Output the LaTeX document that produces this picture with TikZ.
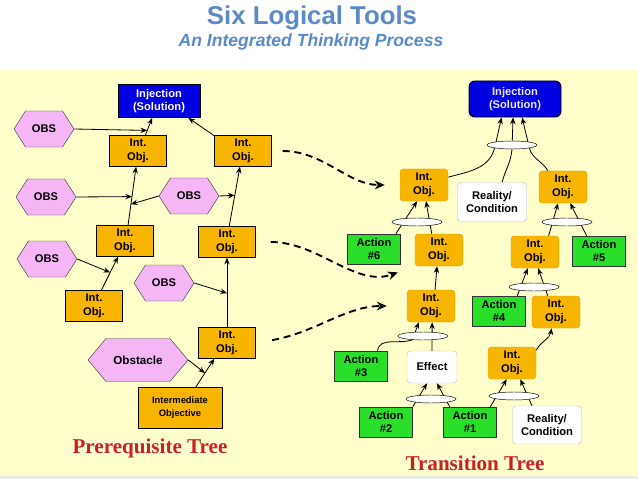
\documentclass[tikz,border=0pt]{standalone}
\usepackage{fontspec}
\setmainfont{Liberation Sans}
\newfontfamily\treefont{Liberation Serif}
\usepackage{tikz}
\usetikzlibrary{
  shapes.geometric, shapes.symbols, arrows.meta, positioning, backgrounds
}
\definecolor{panelyellow}{HTML}{FFFFCC}
\definecolor{objorange}{HTML}{F7B500}
\definecolor{objedge}{HTML}{E0A200}
\definecolor{solblue}{HTML}{0000E0}
\definecolor{actgreen}{HTML}{2ADF2A}
\definecolor{obspink}{HTML}{F5B6F5}
\definecolor{titleblue}{HTML}{5B8AC6}
\definecolor{treered}{HTML}{C8202A}
\tikzset{
  pqobj/.style={
    draw, thin, fill=objorange, align=center, inner sep=1pt,
    minimum width=1.71cm, minimum height=0.93cm,
    font=\fontsize{9.5}{11.5}\selectfont\bfseries
  },
  pqsol/.style={
    draw, thick, fill=solblue, text=white, align=center, inner sep=1pt,
    minimum width=2.46cm, minimum height=0.99cm,
    font=\fontsize{9.5}{11.5}\selectfont\bfseries
  },
  obshex/.style={
    draw=black!75, thin, fill=obspink, signal, signal to=west and east,
    signal pointer angle=115, inner sep=1pt,
    minimum width=1.8cm, minimum height=1.08cm,
    font=\fontsize{9.5}{11.5}\selectfont\bfseries
  },
  trobj/.style={
    draw=objedge, thin, fill=objorange, rounded corners=3pt, align=center,
    inner sep=1pt, minimum width=1.44cm, minimum height=0.96cm,
    font=\fontsize{9.5}{11.5}\selectfont\bfseries
  },
  trsol/.style={
    draw, thick, fill=solblue, text=blue!8, rounded corners=5pt,
    align=center, inner sep=1pt, minimum width=2.76cm, minimum height=1.08cm,
    font=\fontsize{9.5}{11.5}\selectfont\bfseries
  },
  condbox/.style={
    draw=black!25, thin, fill=white, rounded corners=3pt, align=center,
    inner sep=1pt, minimum width=2.07cm, minimum height=1.17cm,
    font=\fontsize{9.5}{11.5}\selectfont\bfseries
  },
  actbox/.style={
    draw=black!80, semithick, fill=actgreen, align=center, inner sep=1pt,
    minimum width=1.59cm, minimum height=0.9cm,
    font=\fontsize{9.5}{11.5}\selectfont\bfseries
  },
  andoval/.style={
    draw, thin, fill=white, ellipse, inner sep=0pt,
    minimum width=1.5cm, minimum height=0.24cm
  },
  treearrow/.style={
    -{Stealth[length=2mm, width=1.6mm]}, line width=0.7pt
  },
  flowarrow/.style={
    -{Stealth[length=3mm, width=2.6mm]}, line width=1.6pt,
    dash pattern=on 6pt off 4pt
  },
  treetitle/.style={
    font=\treefont\fontsize{18}{20}\selectfont\bfseries, text=treered
  },
}

\begin{document}
\begin{tikzpicture}[x=0.03cm, y=-0.03cm]
  \useasboundingbox (0,0) rectangle (638,479);

  % ── Panel ──────────────────────────────────────────────────────
  \begin{scope}[on background layer]
    \fill[panelyellow] (0,70) rectangle (638,476);
    \fill[green!6!gray!18] (0,476) rectangle (638,479);
  \end{scope}

  % ── Title ──────────────────────────────────────────────────────
  \node[font=\fontsize{22}{24}\selectfont\bfseries, text=titleblue]
    (title) at (312,18) {Six Logical Tools};
  \node[font=\fontsize{15}{17}\selectfont\bfseries\itshape, text=titleblue]
    (subtitle) at (311,42) {An Integrated Thinking Process};

  % ── Prerequisite tree ──────────────────────────────────────────
  \node[pqsol] (injL) at (159,101) {Injection\\(Solution)};
  \node[obshex] (obsA) at (44,129) {OBS};
  \node[pqobj] (objA) at (138,151) {Int.\\Obj.};
  \node[pqobj] (objB) at (243,151) {Int.\\Obj.};
  \node[obshex] (obsB) at (46,197) {OBS};
  \node[obshex] (obsC) at (189,196) {OBS};
  \node[pqobj] (objC) at (125,241) {Int.\\Obj.};
  \node[pqobj] (objD) at (227,242) {Int.\\Obj.};
  \node[obshex] (obsD) at (47,259) {OBS};
  \node[obshex] (obsE) at (164,283) {OBS};
  \node[pqobj] (objE) at (94,306) {Int.\\Obj.};
  \node[pqobj] (objF) at (227,343) {Int.\\Obj.};
  \node[obshex, signal pointer angle=100, minimum width=3cm,
        minimum height=1.29cm, font=\fontsize{10}{12}\selectfont\bfseries]
    (obst) at (138,360) {Obstacle};
  \node[pqobj, minimum width=2.52cm, minimum height=1.23cm,
        font=\fontsize{8}{11}\selectfont\bfseries]
    (intobj) at (180,408) {Intermediate\\Objective};
  \node[treetitle] (pqtitle) at (150,448) {Prerequisite Tree};

  % ── Transition tree ────────────────────────────────────────────
  \node[trsol] (injR) at (515,99) {Injection\\(Solution)};
  \node[andoval] (andA) at (512,145) {};
  \node[trobj] (trA) at (424,185) {Int.\\Obj.};
  \node[condbox] (condA) at (492,202) {Reality/\\Condition};
  \node[trobj] (trB) at (563,187) {Int.\\Obj.};
  \node[andoval] (andB) at (417,222) {};
  \node[andoval] (andC) at (567,222) {};
  \node[actbox] (act6) at (374,249) {Action\\\#6};
  \node[trobj] (trC) at (439,250) {Int.\\Obj.};
  \node[trobj] (trD) at (535,252) {Int.\\Obj.};
  \node[actbox] (act5) at (599,251) {Action\\\#5};
  \node[andoval] (andD) at (534,287) {};
  \node[trobj] (trE) at (431,306) {Int.\\Obj.};
  \node[actbox] (act4) at (499,311) {Action\\\#4};
  \node[trobj] (trF) at (556,312) {Int.\\Obj.};
  \node[andoval] (andE) at (423,336) {};
  \node[actbox] (act3) at (361,366) {Action\\\#3};
  \node[condbox, minimum width=1.5cm, minimum height=0.96cm]
    (effect) at (432,367) {Effect};
  \node[trobj] (trG) at (512,363) {Int.\\Obj.};
  \node[andoval] (andF) at (431,399) {};
  \node[andoval] (andG) at (514,396) {};
  \node[actbox] (act2) at (386,422) {Action\\\#2};
  \node[actbox] (act1) at (470,422) {Action\\\#1};
  \node[condbox, minimum height=1.14cm] (condB) at (547,425)
    {Reality/\\Condition};
  \node[treetitle] (trtitle) at (475,463) {Transition Tree};

  % ── Connectors ─────────────────────────────────────────────────
  \begin{scope}[on background layer]
    % prerequisite tree
    \draw[treearrow] (objA.65) -- coordinate[pos=0.28] (jA) (injL.248);
    \draw[treearrow] (objB.152) -- (injL.-30);
    \draw[treearrow] (objC.79) -- coordinate[pos=0.36] (jC2)
      coordinate[pos=0.49] (jC1) (objA.263);
    \draw[treearrow] (objD.82) -- coordinate[pos=0.52] (jD) (objB.259);
    \draw[treearrow] (objE.65) -- coordinate[pos=0.53] (jE) (objC.246);
    \draw[treearrow] (objF.north) -- coordinate[pos=0.49] (jF) (objD.south);
    \draw[treearrow] (intobj.53) -- coordinate[pos=0.5] (jG) (objF.231);
    \draw[treearrow] (obsA.east) -- (jA);
    \draw[treearrow] (obsB.east) -- (jC1);
    \draw[treearrow] (obsC.west) -- (jC2);
    \draw[treearrow] (obsC.east) -- (jD);
    \draw[treearrow] (obsD.east) -- (jE);
    \draw[treearrow] (obsE.east) -- (jF);
    \draw[treearrow] (obst.east) -- (jG);

    % transition tree
    \draw[treearrow] (trA.18) to[out=15, in=-105] (andA.190) -- (injR.234);
    \draw[treearrow] (condA.63) to[out=75, in=-95] (andA.270) -- (injR.264);
    \draw[treearrow] (trB.133) to[out=120, in=-75] (andA.-10) -- (injR.291);
    \draw[treearrow] (act6.35) -- (trA.247);
    \draw[treearrow] (trC.114) -- (trA.277);
    \draw[treearrow] (trD.50) -- (trB.253);
    \draw[treearrow] (act5.129) -- (trB.294);
    \draw[treearrow] (trE.76) -- (trC.263);
    \draw[treearrow] (act4.40) -- (trD.246);
    \draw[treearrow] (trF.117) -- (trD.281);
    \draw[treearrow] (trG.28) to[out=60, in=-100] (trF.255);
    \draw[treearrow] (act3.43) to[out=80, in=200] (andE.200) -- (trE.233);
    \draw[treearrow] (effect.90) -- (trE.274);
    \draw[treearrow] (act2.north east) -- (effect.253);
    \draw[treearrow] (act1.143) -- (effect.287);
    \draw[treearrow] (act1.37) -- (trG.252);
    \draw[treearrow] (condB.128) -- (trG.297);

    % from one tree to the other
    \draw[flowarrow, shorten <=0.33cm, shorten >=0.45cm]
      (objB.east) to[out=0, in=180] (trA.west);
    \draw[flowarrow, shorten <=0.45cm, shorten >=0.54cm]
      (objD.east) to[out=0, in=200] (trC.south west);
    \draw[flowarrow, shorten <=0.5cm, shorten >=0.6cm]
      (objF.east) to[out=10, in=180] (trE.west);
  \end{scope}
\end{tikzpicture}
\end{document}
